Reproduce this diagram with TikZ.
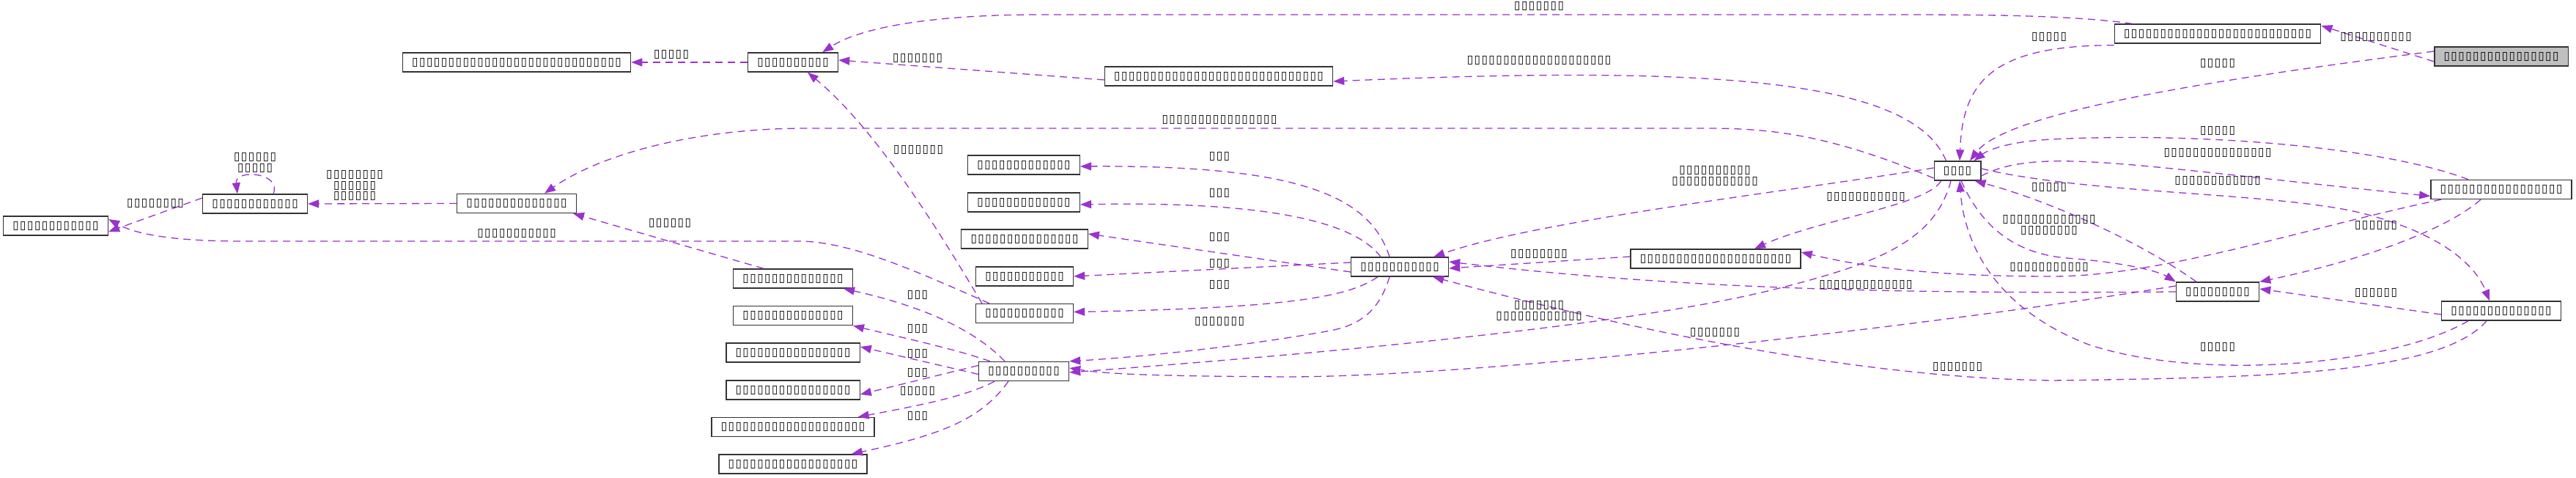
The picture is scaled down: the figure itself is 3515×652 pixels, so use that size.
\documentclass[tikz,border=0pt]{standalone}
\usepackage{fontspec}
\usetikzlibrary{arrows.meta}
\newfontfamily\tofufont{DejaVu Sans}
\definecolor{edgepurple}{RGB}{154,50,205}
\definecolor{rootgray}{RGB}{191,191,191}
\newcount\tofucount
\newcommand\tofu[1]{\tofucount=#1\relax\loop\makebox[9.9pt]{\resizebox{8.4pt}{10pt}{▯}}\advance\tofucount by -1 \ifnum\tofucount>0 \repeat}
\tikzset{
  cls/.style={draw=black!80, fill=white, line width=1.4pt, minimum height=26pt, inner xsep=12pt, inner ysep=0pt, font=\tofufont\fontsize{12}{14}\selectfont},
  rootcls/.style={cls, fill=rootgray},
  uses/.style={draw=edgepurple, line width=1.3pt, dash pattern=on 10pt off 7pt, -{Triangle[length=15pt,width=11pt]}},
  elabel/.style={inner sep=0pt, font=\tofufont\fontsize{12}{14.5}\selectfont, align=center}
}
\begin{document}
\begin{tikzpicture}[x=1pt,y=1pt,yscale=-1,xscale=1]
		\useasboundingbox (0,0) rectangle (3515,652);

		% Shape: Klassen, linke Seite
		\node[cls] (A) at (76,308) {\tofu{12}};
		\node[cls] (B) at (348,278) {\tofu{12}};
		\node[cls] (C) at (705,277.5) {\tofu{14}};
		\node[cls] (D) at (705,85) {\tofu{29}};
		\node[cls] (E) at (1082,85) {\tofu{10}};
		\node[cls] (F) at (1663,104) {\tofu{29}};

		% Shape: Klassen, mittlere Spalte
		\node[cls] (G) at (1397,225) {\tofu{13}};
		\node[cls] (H) at (1397,276) {\tofu{13}};
		\node[cls] (I) at (1398,326) {\tofu{15}};
		\node[cls] (J) at (1398,377) {\tofu{11}};
		\node[cls] (K) at (1398,427.5) {\tofu{11}};
		\node[cls] (hub2) at (1397,506.5) {\tofu{10}};
		\node[cls] (L1) at (1082,380) {\tofu{14}};
		\node[cls] (L2) at (1082,430.5) {\tofu{14}};
		\node[cls] (L3) at (1082,481) {\tofu{16}};
		\node[cls] (L4) at (1082,532) {\tofu{16}};
		\node[cls] (L5) at (1082,582.5) {\tofu{20}};
		\node[cls] (L6) at (1082,633) {\tofu{18}};

		% Shape: Klassen, rechte Seite
		\node[cls] (hub1) at (1910,364) {\tofu{11}};
		\node[cls] (M) at (2341,353) {\tofu{21}};
		\node[cls] (top) at (3026,46) {\tofu{26}};
		\node[rootcls] (gray) at (3413,77) {\tofu{16}};
		\node[cls] (star) at (2671,233) {\tofu{4}};
		\node[cls] (r1) at (3413,258.5) {\tofu{17}};
		\node[cls] (s) at (3026,398) {\tofu{9}};
		\node[cls] (r2) at (3413,424) {\tofu{14}};

		% Connector: gestrichelte Pfeile
		\draw[uses] ([yshift=7pt]gray.west) -- ([yshift=-11pt]top.east);
		\draw[uses] ([yshift=-7pt]gray.west) .. controls (3050,105) and (2740,150) .. ([xshift=17pt]star.north);
		\draw[uses] ([xshift=25pt]top.north west) .. controls (2820,20) and (2700,20) .. (2550,20) -- (1420,20) .. controls (1260,20) and (1170,40) .. ([xshift=-22pt]E.north east);
		\draw[uses] ([yshift=2pt]top.south west) .. controls (2720,62) and (2678,110) .. ([xshift=3pt]star.north);
		\draw[uses] ([yshift=5pt]F.west) -- ([yshift=-3pt]E.east);
		\draw[uses] (E.west) -- (D.east);
		\draw[uses] ([xshift=17pt]star.north west) .. controls (2610,110) and (2350,88) .. ([yshift=7pt]F.east);
		\draw[uses] ([yshift=10pt]star.west) .. controls (2500,185) and (2420,175) .. (2330,175) -- (1100,175) .. controls (950,175) and (820,210) .. ([xshift=38pt]C.north);
		\draw[uses] ([yshift=-4pt]star.west) .. controls (2450,260) and (2100,300) .. ([xshift=-21pt]hub1.north east);
		\draw[uses] ([xshift=10pt]star.south west) .. controls (2630,280) and (2480,300) .. ([xshift=53pt]M.north);
		\draw[uses] ([xshift=-45pt]r1.north) .. controls (3250,200) and (3000,180) .. (2800,190) .. controls (2740,193) and (2712,205) .. ([xshift=-10pt]star.north east);
		\draw[uses] ([yshift=7pt]star.east) .. controls (2780,200) and (2900,225) .. ([yshift=9pt]r1.west);
		\draw[uses] ([yshift=-3pt]star.east) .. controls (2850,265) and (3100,262) .. (3220,290) .. controls (3320,315) and (3375,355) .. ([xshift=-16pt]r2.north);
		\draw[uses] ([xshift=-29pt]s.north) .. controls (2920,330) and (2800,275) .. ([xshift=-9pt]star.south east);
		\draw[uses] ([xshift=5pt]star.south) .. controls (2700,300) and (2740,345) .. (2820,352) .. controls (2900,358) and (2945,370) .. (s.north west);
		\draw[uses] ([xshift=-45pt]r2.south) .. controls (3260,500) and (3000,520) .. (2850,470) .. controls (2720,420) and (2680,330) .. ([xshift=3pt]star.south);
		\draw[uses] ([xshift=-82pt]r1.south) .. controls (3150,310) and (2950,377) .. (2800,377) .. controls (2650,377) and (2550,366) .. ([yshift=-9pt]M.east);
		\draw[uses] ([xshift=-28pt]r1.south) .. controls (3330,320) and (3200,360) .. (s.north east);
		\draw[uses] ([yshift=5pt]r2.west) -- ([yshift=-4pt]s.east);
		\draw[uses] (s.west) .. controls (2600,401) and (2300,395) .. ([yshift=-7pt]hub1.east);
		\draw[uses] ([yshift=-8pt]s.west) .. controls (2600,450) and (2000,515) .. (1750,514) .. controls (1620,513) and (1520,512) .. ([yshift=-4.5pt]hub2.east);
		\draw[uses] ([xshift=-9pt]star.south) .. controls (2640,330) and (2560,360) .. (2420,395) .. controls (2200,450) and (1700,490) .. ([yshift=1.5pt]hub2.east);
		\draw[uses] ([xshift=-20pt]r2.south) .. controls (3330,510) and (3100,515) .. (2800,519) .. controls (2500,515) and (2150,430) .. ([xshift=-22pt]hub1.south east);
		\draw[uses] ([yshift=-3pt]M.west) -- ([yshift=2pt]hub1.east);
		\draw[uses] ([xshift=-14pt]hub1.north) .. controls (1870,270) and (1780,225) .. ([yshift=2pt]G.east);
		\draw[uses] ([xshift=-26pt]hub1.north) .. controls (1850,305) and (1740,274) .. ([yshift=3pt]H.east);
		\draw[uses] ([yshift=7pt]hub1.west) -- ([yshift=-7pt]I.east);
		\draw[uses] ([yshift=-6pt]hub1.west) -- (J.east);
		\draw[uses] ([xshift=-30pt]hub1.south) .. controls (1840,405) and (1760,420) .. ([yshift=-2pt]K.east);
		\draw[uses] ([xshift=-14pt]hub1.south) .. controls (1880,430) and (1850,445) .. (1810,452) .. controls (1680,475) and (1540,488) .. (hub2.north east);
		\draw[uses] ([xshift=-26pt]hub2.north) .. controls (1330,450) and (1260,418) .. ([xshift=-13pt]L1.south east);
		\draw[uses] ([xshift=-46pt]hub2.north) .. controls (1300,475) and (1220,458) .. (L2.south east);
		\draw[uses] ([yshift=4pt]hub2.west) -- ([yshift=-8pt]L3.east);
		\draw[uses] ([yshift=-8pt]hub2.west) -- ([yshift=6pt]L4.east);
		\draw[uses] ([xshift=-40pt]hub2.south) .. controls (1320,540) and (1260,552) .. ([xshift=-23pt]L5.north east);
		\draw[uses] ([xshift=-21pt]hub2.south) .. controls (1340,570) and (1290,592) .. ([xshift=-22pt]L6.north east);
		\draw[uses] ([xshift=-40pt]L1.north) -- ([xshift=-5pt]C.south east);
		\draw[uses] ([xshift=-48pt]K.north) .. controls (1250,370) and (1160,329) .. (1090,329) -- (330,329) .. controls (250,329) and (190,322) .. ([yshift=-9pt]A.east);
		\draw[uses] ([xshift=-58pt]K.north) .. controls (1290,330) and (1200,180) .. ([xshift=20pt]E.south);
		\draw[uses] ([yshift=-8pt]B.west) -- ([yshift=8pt]A.east);
		\draw[uses] (C.west) -- (B.east);
		\draw[uses] ([xshift=25pt]B.north) .. controls (385,235) and (320,230) .. ([xshift=-24pt]B.north);

		% Text box: Kantenbeschriftungen
		\node[elabel] (lGT) at (3242,50) {\tofu{10}};
		\node[elabel] (lGS) at (3026,86) {\tofu{5}};
		\node[elabel] (lTE) at (2100,8) {\tofu{7}};
		\node[elabel] (lTS) at (2796,50) {\tofu{5}};
		\node[elabel] (lFE) at (1252,79) {\tofu{7}};
		\node[elabel] (lED) at (916,74) {\tofu{5}};
		\node[elabel] (lSF) at (2100,82) {\tofu{20}};
		\node[elabel] (lSC) at (1664,163) {\tofu{16}};
		\node[elabel] (lSH1) at (2340,240) {\tofu{10}\\\tofu{12}};
		\node[elabel] (lSM) at (2546,268) {\tofu{11}};
		\node[elabel] (lR1S) at (3026,178) {\tofu{5}};
		\node[elabel] (lSR1) at (3026,208) {\tofu{15}};
		\node[elabel] (lSR2) at (3026,246) {\tofu{12}};
		\node[elabel] (lsS) at (2796,255) {\tofu{5}};
		\node[elabel] (lSs) at (2796,307) {\tofu{13}\\\tofu{8}};
		\node[elabel] (lR2S) at (3026,473) {\tofu{5}};
		\node[elabel] (lR1M) at (2796,364) {\tofu{11}};
		\node[elabel] (lR1s) at (3242,307) {\tofu{6}};
		\node[elabel] (lR2s) at (3242,399) {\tofu{6}};
		\node[elabel] (lsH1) at (2546,388) {\tofu{13}};
		\node[elabel] (lsH2) at (2340,453) {\tofu{7}};
		\node[elabel] (lSH2) at (2100,424) {\tofu{7}\\\tofu{12}};
		\node[elabel] (lR2H1) at (2671,500) {\tofu{7}};
		\node[elabel] (lMH1) at (2100,346) {\tofu{8}};
		\node[elabel] (lHG) at (1664,213) {\tofu{3}};
		\node[elabel] (lHH) at (1664,263) {\tofu{3}};
		\node[elabel] (lHI) at (1664,323) {\tofu{3}};
		\node[elabel] (lHJ) at (1664,359) {\tofu{3}};
		\node[elabel] (lHK) at (1664,388) {\tofu{3}};
		\node[elabel] (lHH2) at (1664,438) {\tofu{7}};
		\node[elabel] (lL1) at (1252,402) {\tofu{3}};
		\node[elabel] (lL2) at (1252,448) {\tofu{3}};
		\node[elabel] (lL3) at (1252,482) {\tofu{3}};
		\node[elabel] (lL4) at (1252,508) {\tofu{3}};
		\node[elabel] (lL5) at (1252,533) {\tofu{5}};
		\node[elabel] (lL6) at (1252,567) {\tofu{3}};
		\node[elabel] (lL1C) at (914,304) {\tofu{6}};
		\node[elabel] (lKA) at (705,318) {\tofu{11}};
		\node[elabel] (lKE) at (1253,204) {\tofu{7}};
		\node[elabel] (lBA) at (212,277) {\tofu{8}};
		\node[elabel] (lCB) at (484,253) {\tofu{8}\\\tofu{6}\\\tofu{6}};
		\node[elabel] (lBB) at (348,222) {\tofu{6}\\\tofu{5}};

	\end{tikzpicture}
\end{document}
